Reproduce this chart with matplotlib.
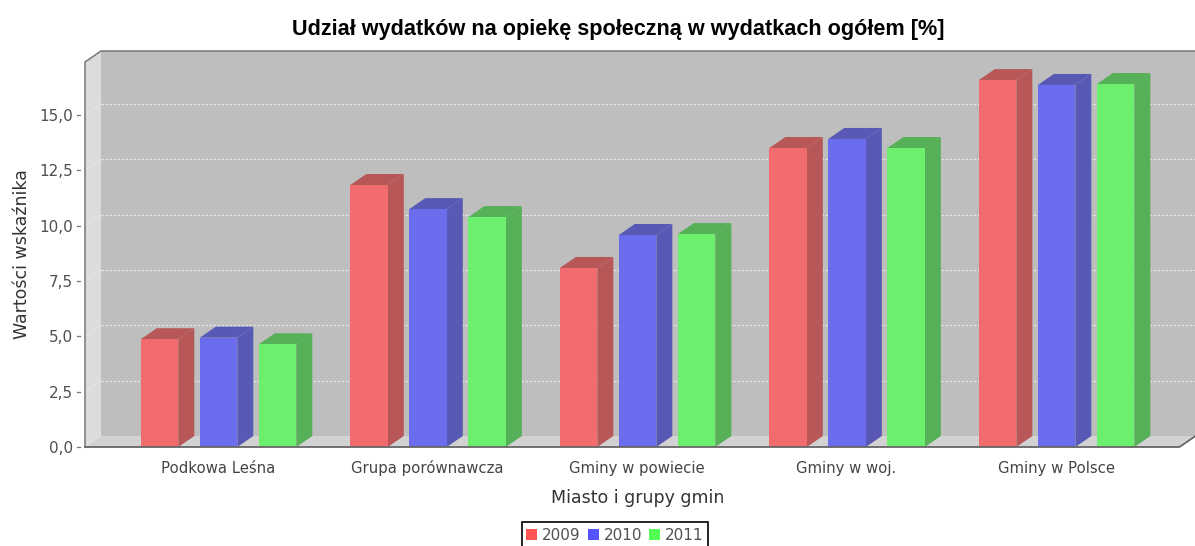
import matplotlib
matplotlib.use('Agg')
import matplotlib.pyplot as plt
from matplotlib.patches import Polygon, Rectangle, Patch
import numpy as np

categories = ['Podkowa Leśna', 'Grupa porównawcza', 'Gminy w powiecie', 'Gminy w woj.', 'Gminy w Polsce']
years = ['2009', '2010', '2011']
v2009 = [4.87, 11.84, 8.09, 13.51, 16.58]
v2010 = [4.94, 10.75, 9.58, 13.92, 16.36]
v2011 = [4.64, 10.39, 9.62, 13.51, 16.40]
yticks = [0.0, 2.5, 5.0, 7.5, 10.0, 12.5, 15.0]
ytick_labels = ['0,0', '2,5', '5,0', '7,5', '10,0', '12,5', '15,0']

front = ['#F26C6F', '#6C6CEF', '#6CEF6C']
side = ['#B85757', '#5759B5', '#55B058']
legend_cols = ['#FF5555', '#5555FF', '#55FF55']
W, H = 1195, 546

fig = plt.figure(figsize=(W / 100, H / 100), dpi=100, facecolor='white')
ax = fig.add_axes([85 / W, 1 - 447 / H, (1179.5 - 85) / W, 385 / H])
ax.set_xlim(-0.635, 4.589)
ax.set_ylim(0, 385 / 22.13)

# depth of the fake 3d box, in data units
px = 1 / 209.5
dx = 16 * px
dy = 11 / 22.13
x0, x1 = ax.get_xlim()
ytop = ax.get_ylim()[1]


def poly(pts, color, z, ec='none', lw=0):
    ax.add_patch(Polygon(pts, closed=True, facecolor=color, edgecolor=ec, linewidth=lw, zorder=z, clip_on=False))


# walls and floor
poly([(x0 + dx, dy), (x1 + dx, dy), (x1 + dx, ytop + dy), (x0 + dx, ytop + dy)], '#BEBEBE', 1)
poly([(x0, 0), (x0 + dx, dy), (x0 + dx, ytop + dy), (x0, ytop)], '#DCDCDC', 1)
poly([(x0, 0), (x1, 0), (x1 + dx, dy), (x0 + dx, dy)], '#D2D2D2', 1)

for t in yticks[1:]:
    ax.plot([x0 + dx, x1 + dx], [t + dy, t + dy], color='#E2E2E2', lw=0.9, ls=(0, (2, 1.2)), zorder=2, clip_on=False)
    ax.plot([x0, x0 + dx], [t, t + dy], color='#E6E6E6', lw=0.6, zorder=2, clip_on=False)

# box outline
ax.plot([x0, x0, x0 + dx, x1 + dx], [0, ytop, ytop + dy, ytop + dy], color='#777777', lw=1.1, zorder=3, clip_on=False)
ax.plot([x0, x1, x1 + dx], [0, 0, dy], color='#666666', lw=1.3, zorder=6, clip_on=False)

# bars
offset = 59 * px
bw = 37.5 * px
for j, vals in enumerate([v2009, v2010, v2011]):
    for i, v in enumerate(vals):
        left = i + (j - 1) * offset - bw / 2 + 0.5 * px
        right = left + bw
        poly([(right, 0), (right + dx, dy), (right + dx, v + dy), (right, v)], side[j], 4)
        poly([(left, v), (right, v), (right + dx, v + dy), (left + dx, v + dy)], side[j], 4)
        ax.add_patch(Rectangle((left, 0), bw, v, facecolor=front[j], edgecolor='none', zorder=5))

for s in ax.spines.values():
    s.set_visible(False)
ax.patch.set_visible(False)

ax.set_xticks(np.arange(len(categories)))
ax.set_xticklabels(categories, fontsize=10.7, color='#444444', va='baseline')
ax.tick_params(axis='x', length=0, pad=18.5)
ax.set_yticks(yticks)
ax.set_yticklabels(ytick_labels, fontsize=11, color='#505050')
ax.tick_params(axis='y', length=0, pad=8.6)
# the small ticks sit a little away from the wall
for t in yticks:
    ax.plot([x0 - 8 * px, x0 - 5 * px], [t, t], color='#777777', lw=0.9, clip_on=False, zorder=3)
ax.set_xlim(x0, x1)
ax.set_ylim(0, ytop)

fig.text(618 / W, 1 - 29.5 / H, 'Udział wydatków na opiekę społeczną w wydatkach ogółem [%]',
         fontsize=15.6, fontweight='bold', family='Liberation Sans', ha='center', va='center', color='black')
fig.text(22 / W, 1 - 254 / H, 'Wartości wskaźnika', fontsize=12.5, color='#333333',
         rotation=90, ha='center', va='center')
fig.text(638 / W, 1 - 498 / H, 'Miasto i grupy gmin', fontsize=12.5, color='#333333', ha='center', va='center')

handles = [Patch(facecolor=c, edgecolor='none') for c in legend_cols]
fig.legend(handles, years, ncols=3, loc='upper center', bbox_to_anchor=(615 / W, 1 - 528 / H),
           fontsize=11, frameon=False, handlelength=0.72, handleheight=0.72, handletextpad=0.33,
           columnspacing=0.45, borderpad=0, borderaxespad=0, labelcolor='#505050')
# legend box runs off the bottom of the picture
fig.add_artist(Rectangle((522 / W, -0.02), 186 / W, 1 - 521.5 / H + 0.02, transform=fig.transFigure,
                         facecolor='none', edgecolor='black', linewidth=1.2))

fig.savefig('out.png', dpi=100)
